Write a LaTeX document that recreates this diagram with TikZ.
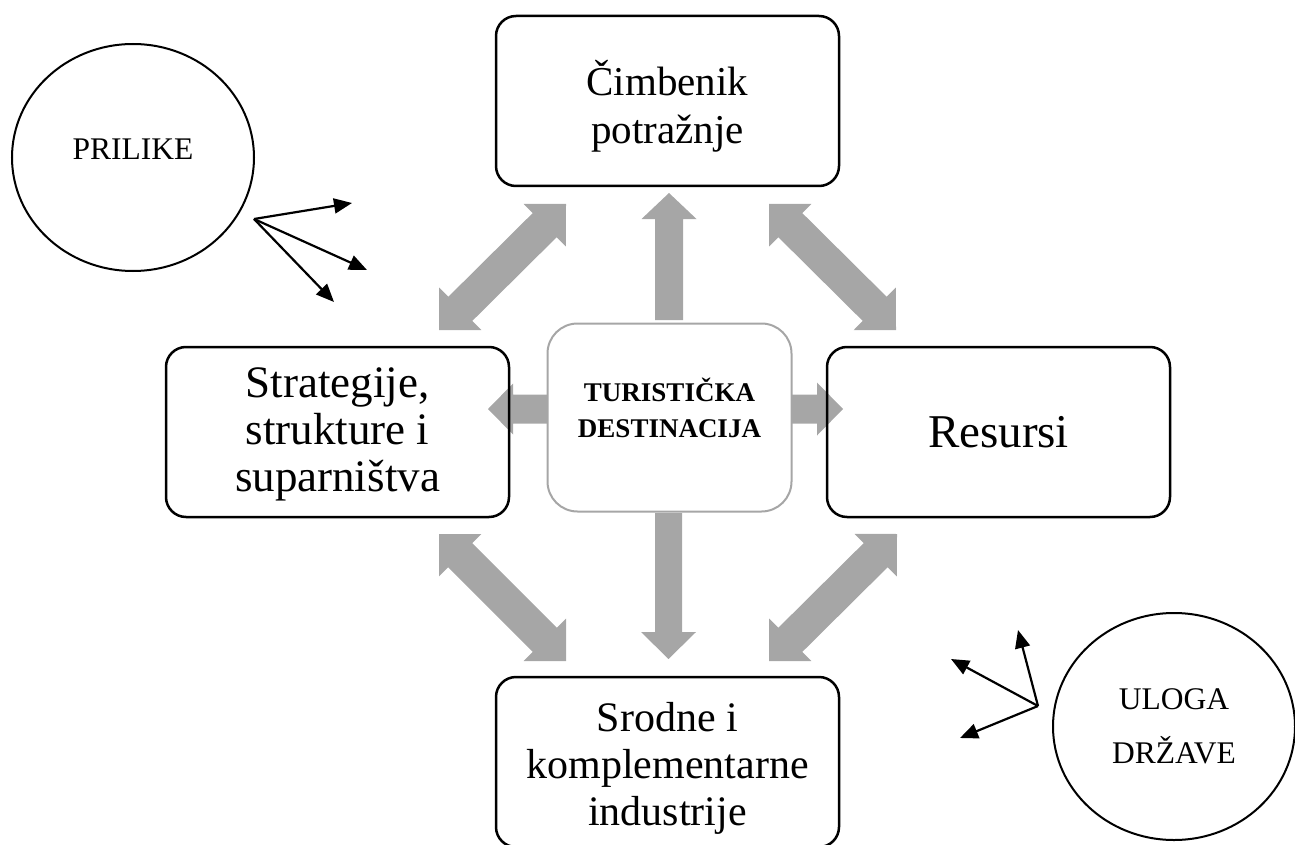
\documentclass[tikz,border=0pt]{standalone}
\usepackage{fontspec}
\setmainfont{Liberation Serif}
\usetikzlibrary{calc,shapes.geometric,arrows.meta}
\definecolor{arrowgray}{RGB}{166,166,166}
% double block arrow: #1 tip A, #2 tip B, #3 head length, #4 head half width, #5 shaft half width
\newcommand\dblblock[5]{%
  \path ($(#1)!#3!(#2)$) coordinate (ha) ($(#2)!#3!(#1)$) coordinate (hb);
  \fill[arrowgray] (#1) -- ($(ha)!#4!90:(#2)$) -- ($(ha)!#5!90:(#2)$)
    -- ($(hb)!#5!-90:(#1)$) -- ($(hb)!#4!-90:(#1)$) -- (#2)
    -- ($(hb)!#4!90:(#1)$) -- ($(hb)!#5!90:(#1)$)
    -- ($(ha)!#5!-90:(#2)$) -- ($(ha)!#4!-90:(#2)$) -- cycle;}
% single block arrow: #1 tail, #2 tip
\newcommand\sglblock[5]{%
  \path ($(#2)!#3!(#1)$) coordinate (hb);
  \fill[arrowgray] ($(#1)!#5!90:(#2)$) -- ($(hb)!#5!-90:(#1)$) -- ($(hb)!#4!-90:(#1)$) -- (#2)
    -- ($(hb)!#4!90:(#1)$) -- ($(hb)!#5!90:(#1)$) -- ($(#1)!#5!-90:(#2)$) -- cycle;}
\begin{document}
\begin{tikzpicture}[x=1pt,y=-1pt,
  box/.style={draw=black, line width=2.5pt, rounded corners=20pt,
    minimum width=343pt, minimum height=170pt, inner sep=0pt},
  boxtext/.style={align=center, inner sep=0pt},
  centerbox/.style={draw=arrowgray, line width=2pt, rounded corners=30pt,
    minimum width=244pt, minimum height=188pt, align=center, inner sep=0pt,
    font=\fontsize{27}{36}\selectfont\bfseries},
  oval/.style={draw=black, line width=2pt, ellipse, minimum width=242pt,
    minimum height=227pt, inner sep=0pt, align=center,
    font=\fontsize{31.5}{54}\selectfont},
  thin/.style={draw=black, line width=2.2pt, -{Triangle[length=18pt,width=15pt]}}
]
\useasboundingbox (0,0) rectangle (1295,845);

% gray block arrows
\coordinate (upT) at (669,320);  \coordinate (upH) at (669,193);
\coordinate (dnT) at (668.5,513); \coordinate (dnH) at (668.5,659);
\coordinate (lfT) at (547,409);  \coordinate (lfH) at (488,409);
\coordinate (rtT) at (792,409);  \coordinate (rtH) at (843,409);
\sglblock{upT}{upH}{26pt}{27.5pt}{14pt}
\sglblock{dnT}{dnH}{27pt}{27.5pt}{13.5pt}
\sglblock{lfT}{lfH}{25pt}{25.5pt}{14.5pt}
\sglblock{rtT}{rtH}{26pt}{26.5pt}{14.5pt}

\coordinate (tlA) at (566,204); \coordinate (tlB) at (439,330);
\coordinate (trA) at (769,204); \coordinate (trB) at (896,330);
\coordinate (blA) at (439,534); \coordinate (blB) at (566,661);
\coordinate (brA) at (897,534); \coordinate (brB) at (769,661);
\dblblock{tlA}{tlB}{30pt}{30pt}{17pt}
\dblblock{trA}{trB}{30pt}{30pt}{17pt}
\dblblock{blA}{blB}{30pt}{30pt}{17pt}
\dblblock{brA}{brB}{30pt}{30pt}{17pt}

% boxes
\node[box, label={[boxtext, font=\fontsize{41}{48}\selectfont, yshift=-5pt]center:{Čimbenik\\potražnje}}] (demand) at (667.5,101) {};
\node[box, label={[boxtext, font=\fontsize{45}{47}\selectfont, yshift=-2pt]center:{Strategije,\\strukture i\\suparništva}}] (strat) at (337.5,432) {};
\node[box, label={[boxtext, font=\fontsize{47}{47}\selectfont]center:{Resursi}}] (res) at (998.5,432) {};
\node[box, label={[boxtext, font=\fontsize{42}{47}\selectfont, yshift=-6pt]center:{Srodne i\\komplementarne\\industrije}}] (rel) at (667.5,762) {};
\node[centerbox] (dest) at (669.5,417.5) {TURISTIČKA\\DESTINACIJA\rule[-19pt]{0pt}{0pt}};

% ovals
\node[oval, label={[font=\fontsize{31.5}{38}\selectfont, yshift=8.5pt]center:PRILIKE}] (prilike) at (133,157.5) {};
\node[oval] (uloga) at (1174,726.5) {ULOGA\\DRŽAVE};

% thin arrows
\coordinate (po) at (254,219);
\coordinate (p1) at (352,203);
\coordinate (p2) at (367,270);
\coordinate (p3) at (334,302);
\draw[thin] (po) -- (p1);
\draw[thin] (po) -- (p2);
\draw[thin] (po) -- (p3);
\coordinate (uo) at (1038,706);
\coordinate (u1) at (1018,630);
\coordinate (u2) at (951,659);
\coordinate (u3) at (960,738);
\draw[thin] (uo) -- (u1);
\draw[thin] (uo) -- (u2);
\draw[thin] (uo) -- (u3);
\end{tikzpicture}
\end{document}
